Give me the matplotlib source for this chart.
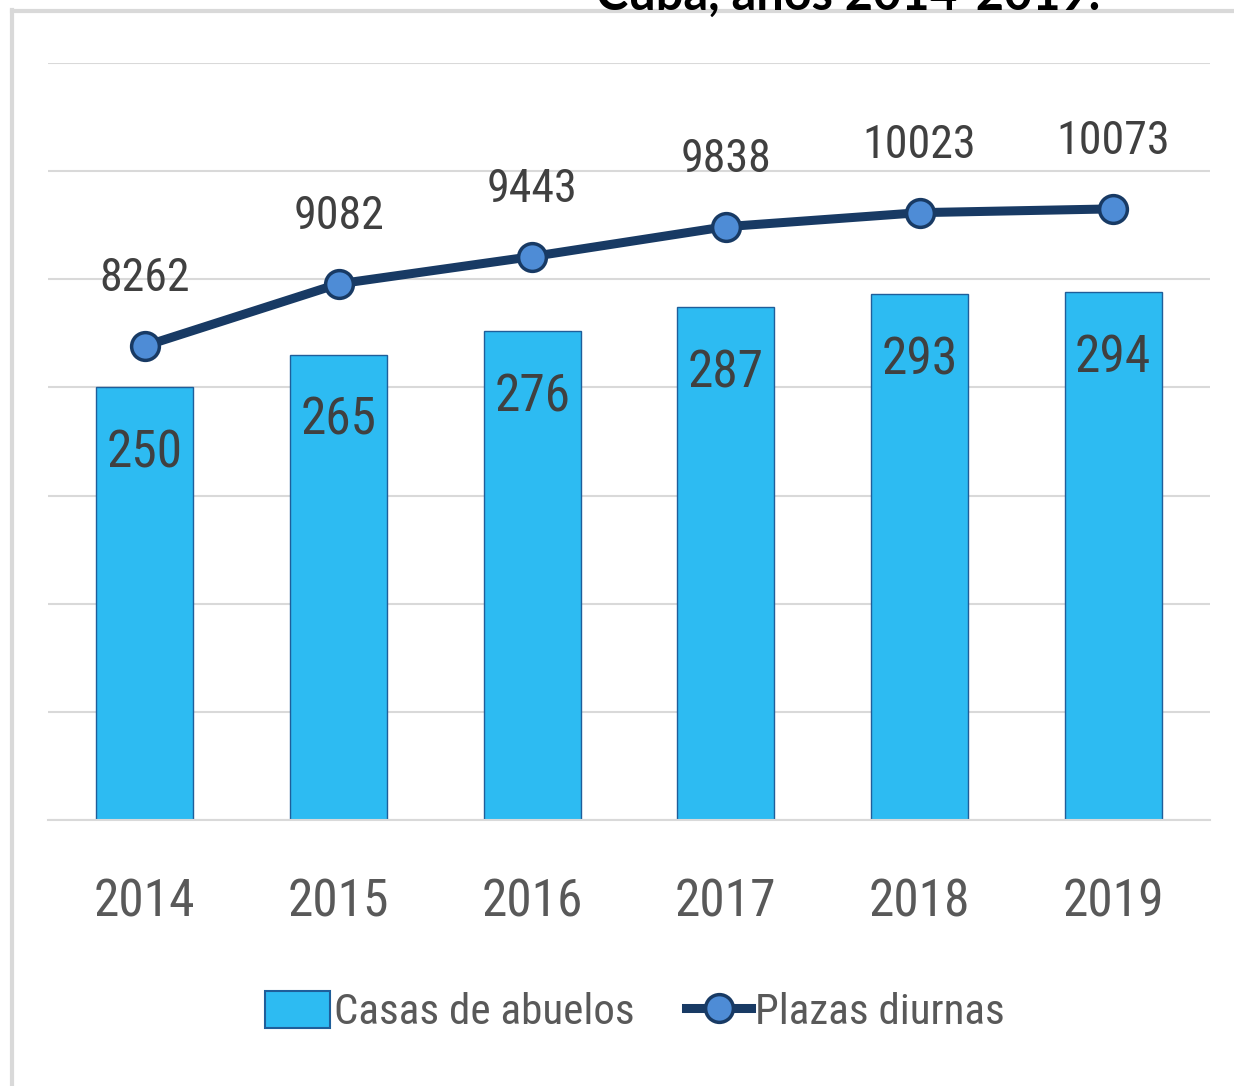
import matplotlib
matplotlib.use("Agg")
import matplotlib.pyplot as plt
from matplotlib.lines import Line2D
from matplotlib.patches import Patch
from matplotlib import font_manager

years = ["2014", "2015", "2016", "2017", "2018", "2019"]
casas = [250, 265, 276, 287, 293, 294]
plazas = [8262, 9082, 9443, 9838, 10023, 10073]
title_text = "Cuba, años 2014-2019."

W, H = 1234, 1086
fig = plt.figure(figsize=(W / 100, H / 100), dpi=100)
renderer = fig.canvas.get_renderer()

# choose a sans face whose width/height for digits is closest to the reference's condensed face
def wval(w):
    if isinstance(w, (int, float)):
        return w
    return font_manager.weight_dict.get(str(w).lower(), 400)

allowed = ("DejaVu Sans", "Liberation Sans", "Noto Sans", "Roboto", "Open Sans", "Lato", "Inter")
target = 2.15
best = None
best_err = 1e9
for f in font_manager.fontManager.ttflist:
    if f.style != "normal":
        continue
    if not f.name.startswith(allowed) or "CJK" in f.name or "Mono" in f.name:
        continue
    if not (350 <= wval(f.weight) <= 520):
        continue
    try:
        p = font_manager.FontProperties(fname=f.fname, size=40)
        w, h, d = renderer.get_text_width_height_descent("2014", p, ismath=False)
    except Exception:
        continue
    if h <= 0:
        continue
    err = abs(w / h - target)
    if err < best_err:
        best_err = err
        best = f.fname

fp = font_manager.FontProperties(fname=best) if best else font_manager.FontProperties(family="DejaVu Sans")
plt.rcParams["font.family"] = ["DejaVu Sans"]

def fx(px):
    return px / W

def fy(py):
    return 1 - py / H

ax = fig.add_axes([fx(48), fy(820), fx(1210) - fx(48), fy(63) - fy(820)])
ax2 = ax.twinx()

x = list(range(len(years)))
bar_color = "#2DBBF2"
ax.bar(x, casas, width=0.5, color=bar_color, edgecolor="#1F5E9A", linewidth=1.0, zorder=2)
ax.set_ylim(50, 400)
ax.set_xlim(-0.5, len(years) - 0.5)
ax.set_yticks(range(50, 401, 50))
ax.yaxis.grid(True, color="#D9D9D9", linewidth=1.5, zorder=0)
ax.set_axisbelow(True)
ax.tick_params(axis="y", left=False, labelleft=False)
ax.tick_params(axis="x", bottom=False, labelcolor="#595959", pad=38)
ax.set_xticks(x)
ax.set_xticklabels(years, fontproperties=fp, fontsize=37)
for s in ax.spines.values():
    s.set_visible(False)
ax.spines["bottom"].set_visible(True)
ax.spines["bottom"].set_color("#D9D9D9")
ax.spines["bottom"].set_linewidth(1.5)

for xi, v in zip(x, casas):
    ax.annotate(str(v), (xi, v), xytext=(0, -66), textcoords="offset pixels",
                ha="center", va="center", fontproperties=fp, fontsize=37,
                color="#404040", zorder=5)

line_color = "#183A64"
ax2.plot(x, plazas, color=line_color, linewidth=6.5, marker="o", markersize=20,
         markerfacecolor="#4E8CD6", markeredgecolor=line_color, markeredgewidth=2.5, zorder=4)
ax2.set_ylim(2000, 12000)
ax2.tick_params(axis="y", right=False, labelright=False)
for s in ax2.spines.values():
    s.set_visible(False)
for xi, v in zip(x, plazas):
    ax2.annotate(str(v), (xi, v), xytext=(0, 68), textcoords="offset pixels",
                 ha="center", va="center", fontproperties=fp, fontsize=33,
                 color="#404040", zorder=5)

# outer frame (left and top lines)
fig.add_artist(Line2D([fx(12), fx(12)], [fy(10), 0], color="#D9D9D9", linewidth=3))
fig.add_artist(Line2D([fx(12), 1], [fy(11), fy(11)], color="#D9D9D9", linewidth=3))

# title, clipped at the top edge as in the reference
fig.text(fx(848), fy(10), title_text, ha="center", va="baseline", fontsize=35,
         fontweight="bold", color="black", family=["Lato", "DejaVu Sans"])

handles = [Patch(facecolor=bar_color, edgecolor="#1F5E9A", linewidth=1.5, label="Casas de abuelos"),
           Line2D([0], [0], color=line_color, linewidth=6.5, marker="o", markersize=20,
                  markerfacecolor="#4E8CD6", markeredgecolor=line_color, markeredgewidth=2.5,
                  label="Plazas diurnas")]
lfp = fp.copy()
lfp.set_size(31)
fig.legend(handles=handles, loc="center", bbox_to_anchor=(fx(635), fy(1012)), ncol=2,
           frameon=False, prop=lfp, labelcolor="#595959", handlelength=1.5,
           handleheight=0.95, handletextpad=0.1, columnspacing=1.2)

fig.savefig("out.png", dpi=100)
